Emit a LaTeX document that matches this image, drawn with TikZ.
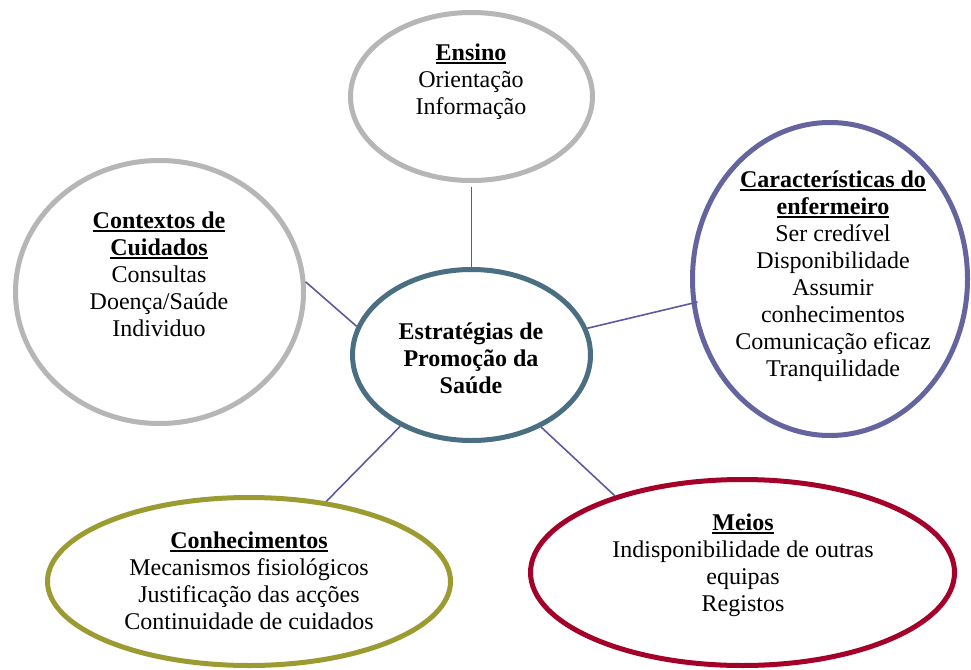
\documentclass[tikz,border=0pt]{standalone}
\usepackage{fontspec}
\setmainfont{Liberation Serif}
\usetikzlibrary{shapes.geometric}
\definecolor{ringgray}{RGB}{182,182,182}
\definecolor{ringteal}{RGB}{74,110,130}
\definecolor{ringpurple}{RGB}{102,100,158}
\definecolor{ringolive}{RGB}{156,155,50}
\definecolor{ringred}{RGB}{163,0,42}
\definecolor{linkcol}{RGB}{92,90,156}
\newcommand\ulh[1]{\setbox0\hbox{#1}\rlap{\rule[-3.5pt]{\wd0}{1.8pt}}\box0}
\begin{document}
\begin{tikzpicture}[x=1pt,y=-1pt,
  ring/.style={draw, ellipse, line width=5pt, inner sep=0pt, fill=white},
  txt/.style={align=center, inner sep=0pt, font=\fontsize{24}{27}\selectfont},
  link/.style={draw=linkcol, line width=1.6pt}]
\useasboundingbox (0,0) rectangle (971,669);
% rings
\node[ring, draw=ringgray, minimum width=242pt, minimum height=168pt] (ensino) at (471.5,96.5) {};
\node[ring, draw=ringteal, minimum width=238pt, minimum height=171pt] (central) at (471.5,355) {};
\node[ring, draw=ringgray, minimum width=288pt, minimum height=263pt] (contextos) at (159.5,292) {};
\node[ring, draw=ringpurple, minimum width=275pt, minimum height=313pt] (caract) at (830,279) {};
\node[ring, draw=ringolive, minimum width=403pt, minimum height=168pt] (conhec) at (249,581.5) {};
\node[ring, draw=ringred, minimum width=424pt, minimum height=186pt] (meios) at (742.5,572.5) {};
% texts
\node[txt] (ensinoT) at (471,82) {\textbf{\ulh{Ensino}}\\Orientação\\Informação};
\node[txt] (contextosT) at (159,274) {\textbf{\ulh{Contextos de}}\\\textbf{\ulh{Cuidados}}\\Consultas\\Doença/Saúde\\Individuo};
\node[txt, font=\fontsize{24}{27}\selectfont\bfseries] (centralT) at (471,358) {Estratégias de\\Promoção da\\Saúde};
\node[txt] (caractT) at (833,276) {\textbf{\ulh{Características do}}\\\textbf{\ulh{enfermeiro}}\\Ser credível\\Disponibilidade\\Assumir\\conhecimentos\\Comunicação eficaz\\Tranquilidade};
\node[txt] (conhecT) at (249,581) {\textbf{\ulh{Conhecimentos}}\\Mecanismos fisiológicos\\Justificação das acções\\Continuidade de cuidados};
\node[txt] (meiosT) at (743,565) {\textbf{\ulh{Meios}}\\Indisponibilidade de outras\\equipas\\Registos};
% connectors
\draw[link] (ensino.south) ++(0,4) -- (central.north);
\draw[link] (contextos.4.3) -- (central.166.5);
\draw[link, shorten >=-6pt] (central.13) -- (caract.190.4);
\draw[link] (central.225) -- (conhec.46.2);
\draw[link] (central.314.4) -- (meios.149.3);
\end{tikzpicture}
\end{document}
